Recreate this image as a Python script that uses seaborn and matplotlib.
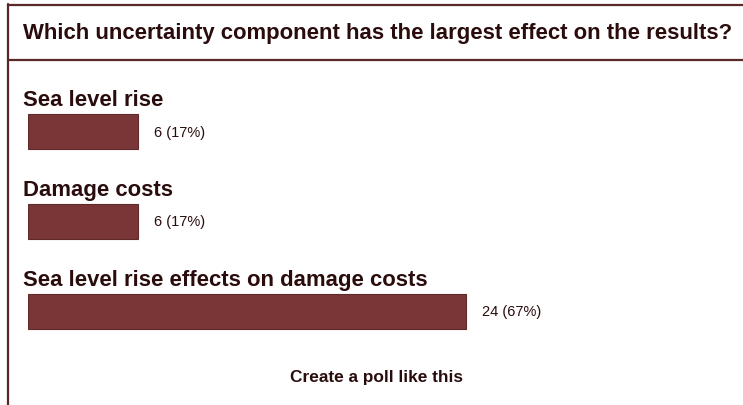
import matplotlib
matplotlib.use("Agg")
import matplotlib.pyplot as plt
from matplotlib.lines import Line2D
import seaborn as sns
import pandas as pd

title = "Which uncertainty component has the largest effect on the results?"
options = ["Sea level rise", "Damage costs", "Sea level rise effects on damage costs"]
votes = [6, 6, 24]
percents = [17, 17, 67]
footer = "Create a poll like this"

sns.set_theme(style="white")
plt.rcParams['font.family'] = ['Liberation Sans', 'DejaVu Sans']

BAR = "#7a3636"
EDGE = "#5e2a2a"
TXT = "#2a0c0c"
LINE = "#5a2828"

W, H = 743, 406
fig = plt.figure(figsize=(W / 100, H / 100), dpi=100)
fig.patch.set_facecolor("white")

# axes in pixel layout
left_px, top_px, height_px = 28, 87.5, 270
width_px = 30 * 18.25
ax = fig.add_axes([left_px / W, (H - top_px - height_px) / H, width_px / W, height_px / H])

df = pd.DataFrame({"option": options, "votes": votes})
sns.barplot(data=df, y="option", x="votes", orient="h", ax=ax, color=BAR,
            width=0.39, saturation=1, edgecolor=EDGE, linewidth=0.8)
ax.set_xlim(0, 30)
ax.set_ylim(2.5, -0.5)
ax.axis("off")

for i, (opt, v, p) in enumerate(zip(options, votes, percents)):
    ax.annotate(opt, xy=(0, i), xytext=(-5, 32), textcoords="offset pixels",
                ha="left", va="center", fontsize=15.9, fontweight="bold", color=TXT)
    ax.annotate(f"{v} ({p}%)", xy=(v, i), xytext=(16, 0), textcoords="offset pixels",
                ha="left", va="center", fontsize=10.5, color=TXT)

fig.text(23 / W, 1 - 34 / H, title, ha="left", va="center", fontsize=15.9,
         fontweight="bold", color=TXT)
fig.text(377 / W, 1 - 378 / H, footer, ha="center", va="center", fontsize=12.4,
         fontweight="bold", color=TXT)

# frame lines
lw = 1.6
fig.add_artist(Line2D([8 / W, 8 / W], [1 - 5 / H, 0], transform=fig.transFigure, color=LINE, lw=lw))
fig.add_artist(Line2D([8 / W, 1], [1 - 6 / H, 1 - 6 / H], transform=fig.transFigure, color=LINE, lw=lw))
fig.add_artist(Line2D([8 / W, 1], [1 - 61 / H, 1 - 61 / H], transform=fig.transFigure, color=LINE, lw=lw))

fig.savefig("out.png", dpi=100, facecolor="white")
